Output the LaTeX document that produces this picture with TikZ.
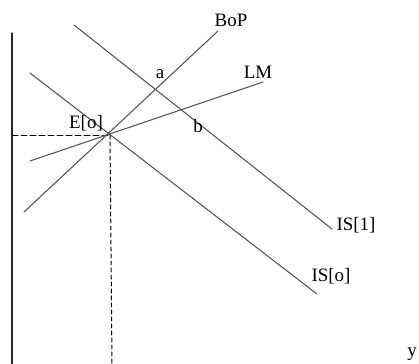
\documentclass[tikz,border=0pt]{standalone}
\usepackage{fontspec}
\setmainfont{Liberation Serif}
\begin{document}
\begin{tikzpicture}[x=1bp, y=-1bp, font=\fontsize{19}{21}\selectfont, line join=round, line cap=round,
	curve/.style={black!65, line width=1.1bp},
	guide/.style={dash pattern=on 6bp off 3bp, line width=1bp},
	lbl/.style={inner sep=0pt, anchor=center}]
	\useasboundingbox (0,0) rectangle (419,364);
	% axis
	\coordinate (ytop) at (12,33);
	\coordinate (ybot) at (12,364);
	\draw[line width=1.2bp, black!85] (ytop)--(ybot);
	% equilibrium and guide lines
	\coordinate (E) at (110,135);
	\coordinate (Eleft) at (12,135);
	\coordinate (Ebot) at (112,364);
	\draw[guide] (Eleft)--(E);
	\draw[guide, dash pattern=on 4bp off 3bp] (E)--(Ebot);
	% curves
	\coordinate (BoPa) at (24,212);  \coordinate (BoPb) at (218,31);
	\coordinate (LMa) at (30,161);   \coordinate (LMb) at (263,82);
	\coordinate (ISoa) at (30,73);   \coordinate (ISob) at (317,294);
	\coordinate (ISia) at (74,25);   \coordinate (ISib) at (332,229);
	\draw[curve] (BoPa)--(BoPb);
	\draw[curve] (LMa)--(LMb);
	\draw[curve] (ISoa)--(ISob);
	\draw[curve] (ISia)--(ISib);
	% labels
	\node[lbl] (BoP) at (231,20) {BoP};
	\node[lbl] (LM) at (258,72) {LM};
	\node[lbl] (Elbl) at (86,123) {E[o]};
	\node[lbl] (alb) at (160,74) {a};
	\node[lbl] (blb) at (198,126) {b};
	\node[lbl] (IS1) at (356,225) {IS[1]};
	\node[lbl] (ISo) at (331,276) {IS[o]};
	\node[lbl] (ylb) at (412,354) {y};
\end{tikzpicture}
\end{document}
